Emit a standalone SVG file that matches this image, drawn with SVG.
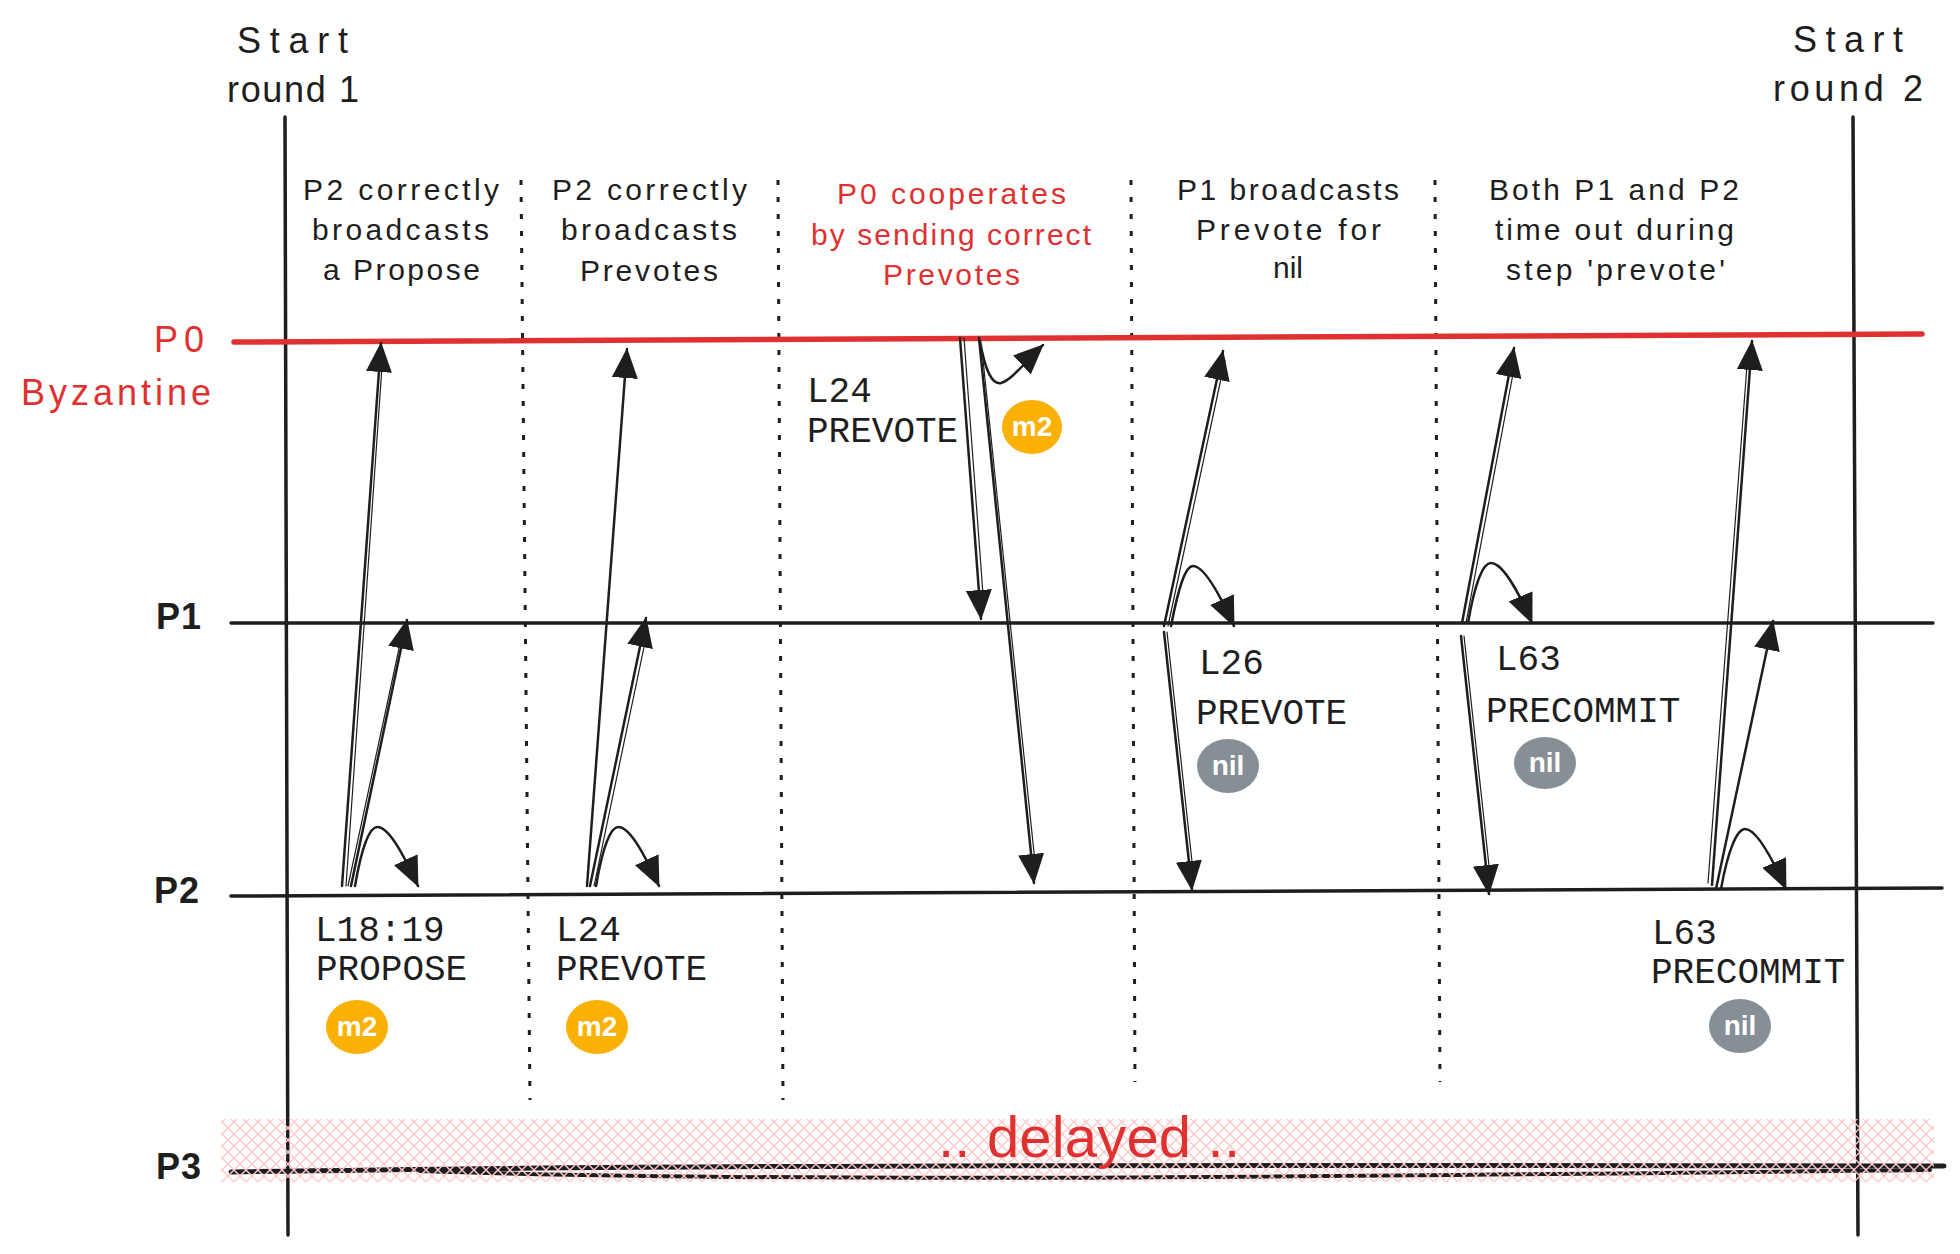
<svg xmlns="http://www.w3.org/2000/svg" width="1960" height="1254" viewBox="0 0 1960 1254">
  <defs>
    <marker id="ah" markerUnits="userSpaceOnUse" viewBox="0 0 30 26" refX="29" refY="13" markerWidth="30" markerHeight="26" orient="auto">
      <path d="M0,0 L30,13 L0,26 Z" fill="#1e1e1e"/>
    </marker>
    <pattern id="hatch" patternUnits="userSpaceOnUse" width="12" height="12">
      <path d="M-1,13 L13,-1 M-1,-1 L13,13" stroke="#ffc9c9" stroke-width="1.4" fill="none"/>
    </pattern>
  </defs>
  <style>
    .hand { font-family: "Liberation Sans", "DejaVu Sans", sans-serif; font-size: 30px; fill: #1e1e1e; }
    .big { font-size: 36px; }
    .lbl { font-family: "Liberation Sans", "DejaVu Sans", sans-serif; font-size: 36px; font-weight: bold; fill: #1e1e1e; letter-spacing: 1px; }
    .red { fill: #e03131; }
    .mono { font-family: "Liberation Mono", "DejaVu Sans Mono", monospace; font-size: 36px; fill: #1e1e1e; }
    .sep { stroke: #1e1e1e; stroke-width: 3; stroke-dasharray: 5 12; fill: none; }
    .life { stroke: #1e1e1e; stroke-width: 3.5; fill: none; stroke-linecap: round; }
    .arrow { stroke: #1e1e1e; stroke-width: 2.5; fill: none; marker-end: url(#ah); stroke-linecap: round; }
    .ghost { stroke: #1e1e1e; stroke-width: 1.2; fill: none; stroke-linecap: round; }
    .badge-t { font-family: "Liberation Sans", sans-serif; font-weight: bold; font-size: 28px; fill: #ffffff; text-anchor: middle; }
  </style>
  <rect width="1960" height="1254" fill="#ffffff"/>

  <!-- round boundaries -->
  <g id="round1">
    <text class="hand big" x="237" y="53" textLength="111">Start</text>
    <text class="hand big" x="227" y="102" textLength="132">round 1</text>
    <path class="life" d="M285,117 L288,1235"/>
  </g>
  <g id="round2">
    <text class="hand big" x="1793" y="52" textLength="110">Start</text>
    <text class="hand big" x="1773" y="101" textLength="150">round 2</text>
    <path class="life" d="M1853,117 L1858,1235"/>
  </g>

  <!-- separators -->
  <g id="separators">
    <path class="sep" d="M521,180 L530,1100"/>
    <path class="sep" d="M778,180 L783,1100"/>
    <path class="sep" d="M1131,180 L1135,1082"/>
    <path class="sep" d="M1435,180 L1440,1082"/>
  </g>

  <!-- process lines -->
  <g id="P0">
    <text class="hand big red" x="154" y="352" textLength="50">P0</text>
    <text class="hand big red" x="21" y="405" textLength="190">Byzantine</text>
    <path d="M234,342 L1922,334" stroke="#e03131" stroke-width="5.5" stroke-linecap="round" fill="none"/>
  </g>
  <g id="P1">
    <text class="lbl" x="156" y="629">P1</text>
    <path class="life" d="M231,623 L1933,623"/>
  </g>
  <g id="P2">
    <text class="lbl" x="154" y="903">P2</text>
    <path class="life" d="M231,896 L1942,888"/>
  </g>
  <g id="P3">
    <text class="lbl" x="156" y="1179">P3</text>
    <path d="M231,1172 C700,1164 1300,1165 1944,1166" stroke="#1e1e1e" stroke-width="5" fill="none" stroke-linecap="round"/>
    <path d="M420,1171 C800,1183 1300,1177 1930,1170" stroke="#1e1e1e" stroke-width="4" fill="none" stroke-linecap="round"/>
    <rect x="221" y="1119" width="1713" height="63" fill="url(#hatch)"/>
    <text class="hand red" x="938" y="1157" style="font-size:58px" textLength="302">.. delayed ..</text>
  </g>

  <!-- column headers -->
  <g id="col1-header">
    <text class="hand" x="303" y="200" textLength="196">P2 correctly</text>
    <text class="hand" x="312" y="240" textLength="177">broadcasts</text>
    <text class="hand" x="323" y="280" textLength="157">a Propose</text>
  </g>
  <g id="col2-header">
    <text class="hand" x="552" y="200" textLength="195">P2 correctly</text>
    <text class="hand" x="561" y="240" textLength="176">broadcasts</text>
    <text class="hand" x="580" y="281" textLength="138">Prevotes</text>
  </g>
  <g id="col3-header">
    <text class="hand red" x="837" y="204" textLength="229">P0 cooperates</text>
    <text class="hand red" x="811" y="245" textLength="280">by sending correct</text>
    <text class="hand red" x="883" y="285" textLength="137">Prevotes</text>
  </g>
  <g id="col4-header">
    <text class="hand" x="1177" y="200" textLength="222">P1 broadcasts</text>
    <text class="hand" x="1196" y="240" textLength="185">Prevote for</text>
    <text class="hand" x="1273" y="278">nil</text>
  </g>
  <g id="col5-header">
    <text class="hand" x="1489" y="200" textLength="250">Both P1 and P2</text>
    <text class="hand" x="1495" y="240" textLength="239">time out during</text>
    <text class="hand" x="1506" y="280" textLength="219">step 'prevote'</text>
  </g>

  <!-- message labels -->
  <g id="msg-propose">
    <text class="mono" x="315" y="941">L18:19</text>
    <text class="mono" x="316" y="980">PROPOSE</text>
    <ellipse cx="357" cy="1027" rx="31" ry="27" fill="#fab005"/>
    <text class="badge-t" x="357" y="1036">m2</text>
  </g>
  <g id="msg-prevote-p2">
    <text class="mono" x="556" y="941">L24</text>
    <text class="mono" x="556" y="980">PREVOTE</text>
    <ellipse cx="597" cy="1027" rx="31" ry="27" fill="#fab005"/>
    <text class="badge-t" x="597" y="1036">m2</text>
  </g>
  <g id="msg-prevote-p0">
    <text class="mono" x="807" y="402">L24</text>
    <text class="mono" x="807" y="442">PREVOTE</text>
    <ellipse cx="1032" cy="427" rx="30" ry="27" fill="#fab005"/>
    <text class="badge-t" x="1032" y="436">m2</text>
  </g>
  <g id="msg-prevote-p1">
    <text class="mono" x="1199" y="674">L26</text>
    <text class="mono" x="1196" y="724">PREVOTE</text>
    <ellipse cx="1228" cy="766" rx="31" ry="27" fill="#868e96"/>
    <text class="badge-t" x="1228" y="775">nil</text>
  </g>
  <g id="msg-precommit-p1">
    <text class="mono" x="1496" y="670">L63</text>
    <text class="mono" x="1486" y="722">PRECOMMIT</text>
    <ellipse cx="1545" cy="763" rx="31" ry="26" fill="#868e96"/>
    <text class="badge-t" x="1545" y="772">nil</text>
  </g>
  <g id="msg-precommit-p2">
    <text class="mono" x="1652" y="944">L63</text>
    <text class="mono" x="1651" y="983">PRECOMMIT</text>
    <ellipse cx="1740" cy="1026" rx="31" ry="27" fill="#868e96"/>
    <text class="badge-t" x="1740" y="1035">nil</text>
  </g>

  <!-- connectors -->
  <g id="connectors">
    <path class="arrow" d="M342,886 L381,343"/>
    <path class="ghost" d="M346,886 L383,352"/>
    <path class="arrow" d="M351,886 L407,620"/>
    <path class="ghost" d="M348,886 L403,630"/>
    <path class="arrow" d="M355,886 C362,845 370,826 378,827 C390,828 405,858 418,886"/>

    <path class="arrow" d="M587,886 L627,349"/>
    <path class="arrow" d="M590,886 L646,618"/>
    <path class="ghost" d="M594,886 L648,628"/>
    <path class="arrow" d="M596,886 C603,845 611,826 619,827 C631,828 646,858 659,886"/>

    <path class="arrow" d="M960,338 L981,619"/>
    <path class="ghost" d="M964,338 L984,608"/>
    <path class="arrow" d="M979,338 L1034,883"/>
    <path class="ghost" d="M982,350 L1036,872"/>
    <path class="arrow" d="M980,341 C985,370 992,385 1001,383 C1012,380 1025,362 1043,345"/>

    <path class="arrow" d="M1164,626 L1223,351"/>
    <path class="ghost" d="M1168,626 L1225,360"/>
    <path class="arrow" d="M1171,626 C1178,590 1185,566 1193,566 C1204,566 1220,595 1234,626"/>
    <path class="arrow" d="M1164,632 L1192,890"/>
    <path class="ghost" d="M1167,632 L1194,880"/>

    <path class="arrow" d="M1462,623 L1514,348"/>
    <path class="ghost" d="M1466,623 L1516,358"/>
    <path class="arrow" d="M1468,623 C1474,588 1482,563 1491,563 C1503,563 1520,595 1532,623"/>
    <path class="arrow" d="M1461,636 L1489,894"/>
    <path class="ghost" d="M1464,636 L1491,884"/>

    <path class="arrow" d="M1712,885 L1752,341"/>
    <path class="ghost" d="M1708,883 L1748,352"/>
    <path class="arrow" d="M1716,889 L1773,621"/>
    <path class="arrow" d="M1721,889 C1728,850 1737,829 1745,829 C1757,829 1773,860 1786,889"/>
  </g>
</svg>
